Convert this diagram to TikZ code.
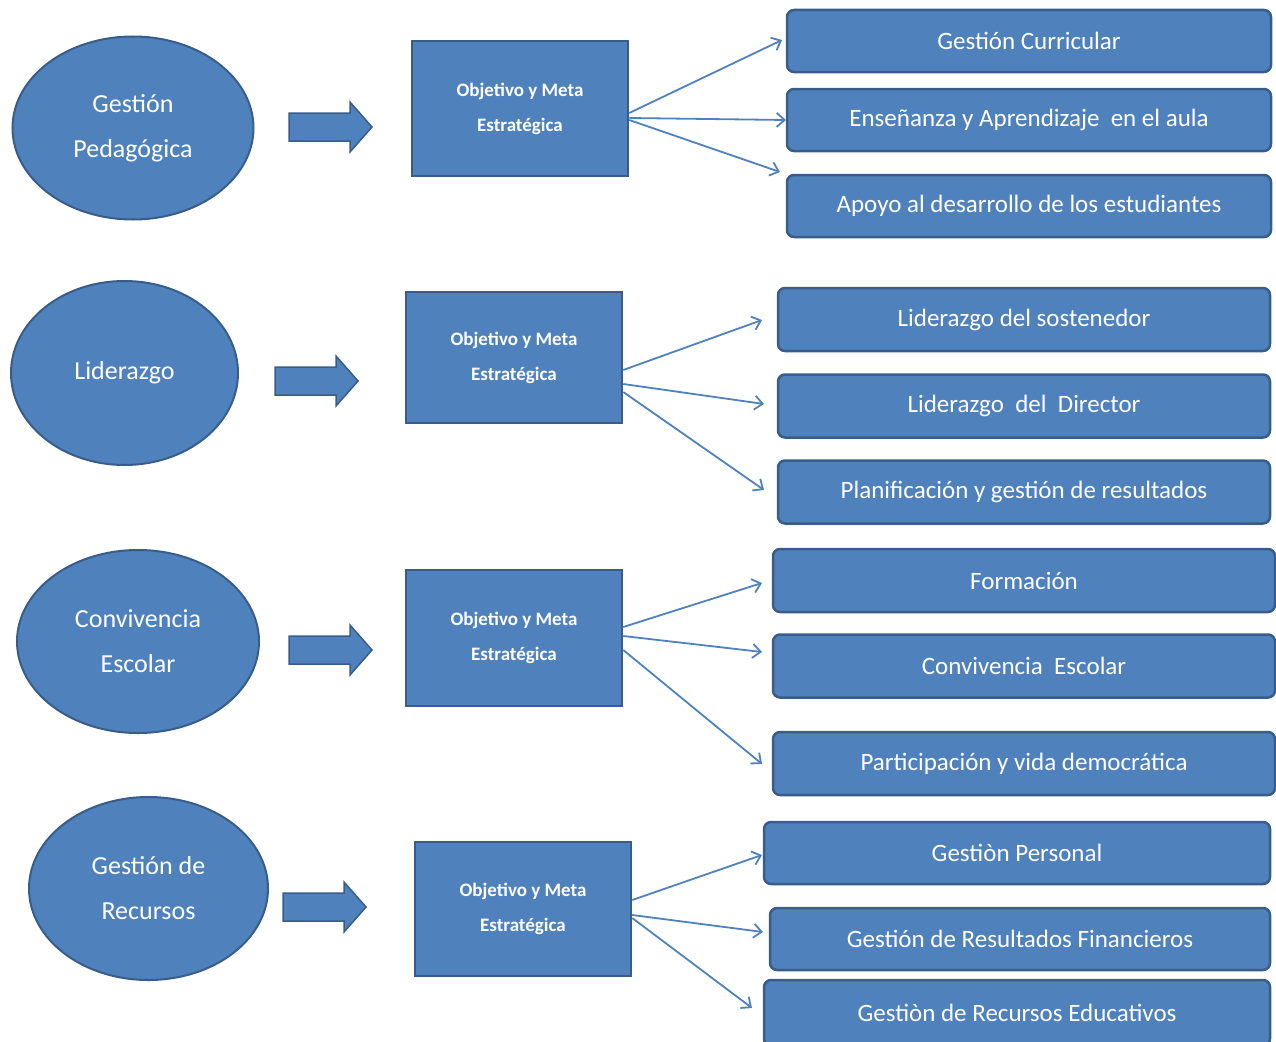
\documentclass[tikz,border=0pt]{standalone}
\usepackage{fontspec}
\setmainfont{Carlito}
\usetikzlibrary{shapes.geometric,arrows.meta}
\definecolor{fillb}{HTML}{4F81BD}
\definecolor{edgeb}{HTML}{385D8A}
\newcommand\fatarrow[2]{%
  \draw[bigarrow] (#1,#2) ++(0,-14) -- ++(61,0) -- ++(0,-11) -- ++(22,25) -- ++(-22,25) -- ++(0,-11) -- ++(-61,0) -- cycle;}
\begin{document}
\begin{tikzpicture}[x=1pt,y=-1pt,
 area/.style={ellipse, fill=fillb, draw=edgeb, line width=2pt, text=white, inner sep=0pt, align=center, font=\fontsize{26}{45}\selectfont},
 goal/.style={rectangle, fill=fillb, draw=edgeb, line width=2.5pt, text=white, inner sep=0pt, align=center, minimum width=216pt, font=\fontsize{19}{35}\selectfont\bfseries},
 dim/.style={rectangle, rounded corners=7pt, fill=fillb, draw=edgeb, line width=2.5pt, text=white, inner sep=0pt, font=\fontsize{25}{30}\selectfont},
 link/.style={draw=fillb, line width=1.8pt, -{Straight Barb[length=8pt,width=14pt]}},
 bigarrow/.style={fill=fillb, draw=edgeb, line width=1.5pt}]
\useasboundingbox (0,0) rectangle (1276,1041);

% ---------- Row 1 ----------
\node[area, minimum width=241pt, minimum height=183pt] (e1) at (133,128) {Gestión\\Pedagógica};
\fatarrow{289}{127}
\node[goal, minimum height=135pt] (r1) at (520,108.5) {Objetivo y Meta\\Estratégica};
\node[dim, minimum width=484pt, minimum height=62pt] (b11) at (1029,41) {Gestión Curricular};
\node[dim, minimum width=484pt, minimum height=62pt] (b12) at (1029,120) {Enseñanza y Aprendizaje\ \ en el aula};
\node[dim, minimum width=484pt, minimum height=62pt] (b13) at (1029,206) {Apoyo al desarrollo de los estudiantes};
\coordinate (t11) at (782,40);
\coordinate (t12) at (786,120);
\coordinate (t13) at (780,172);
\draw[link] ([yshift=-4.5pt]r1.east) -- (t11);
\draw[link] ([yshift=-9.5pt]r1.east) -- (t12);
\draw[link] ([yshift=-11.5pt]r1.east) -- (t13);

% ---------- Row 2 ----------
\node[area, minimum width=227pt, minimum height=184pt] (e2) at (124.5,373) {Liderazgo};
\fatarrow{275}{381}
\node[goal, minimum height=131pt] (r2) at (514,357.5) {Objetivo y Meta\\Estratégica};
\node[dim, minimum width=492pt, minimum height=63pt] (b21) at (1024,319.5) {Liderazgo del sostenedor};
\node[dim, minimum width=492pt, minimum height=63pt] (b22) at (1024,406) {Liderazgo\ \ del\ \ Director};
\node[dim, minimum width=492pt, minimum height=63pt] (b23) at (1024,492) {Planificación y gestión de resultados};
\coordinate (t21) at (762,320);
\coordinate (t22) at (764,404);
\coordinate (t23) at (764,490);
\draw[link] ([yshift=-12.5pt]r2.east) -- (t21);
\draw[link] ([yshift=-26.5pt]r2.east) -- (t22);
\draw[link] ([yshift=-34.5pt]r2.east) -- (t23);

% ---------- Row 3 ----------
\node[area, minimum width=242pt, minimum height=183pt] (e3) at (138,641.5) {Convivencia\\Escolar};
\fatarrow{289}{650}
\node[goal, minimum height=136pt] (r3) at (514,638) {Objetivo y Meta\\Estratégica};
\node[dim, minimum width=502pt, minimum height=63pt] (b31) at (1024,580.5) {Formación};
\node[dim, minimum width=502pt, minimum height=63pt] (b32) at (1024,666) {Convivencia\ \ Escolar};
\node[dim, minimum width=502pt, minimum height=63pt] (b33) at (1024,763.5) {Participación y vida democrática};
\coordinate (t31) at (762,583);
\coordinate (t32) at (762,652);
\coordinate (t33) at (762,764);
\draw[link] ([yshift=11pt]r3.east) -- (t31);
\draw[link] ([yshift=2pt]r3.east) -- (t32);
\draw[link] ([yshift=-12pt]r3.east) -- (t33);

% ---------- Row 4 ----------
\node[area, minimum width=239pt, minimum height=183pt] (e4) at (148.5,888.5) {Gestión de\\Recursos};
\fatarrow{283}{907}
\node[goal, minimum height=134pt] (r4) at (523,909) {Objetivo y Meta\\Estratégica};
\node[dim, minimum width=506pt, minimum height=62pt] (b41) at (1017,853) {Gestiòn Personal};
\node[dim, minimum width=500pt, minimum height=62pt] (b42) at (1020,939) {Gestión de Resultados Financieros};
\node[dim, minimum width=506pt, minimum height=66pt] (b43) at (1017,1013) {Gestiòn de Recursos Educativos};
\coordinate (t41) at (762,855);
\coordinate (t42) at (763,932);
\coordinate (t43) at (752,1008);
\draw[link] ([yshift=9pt]r4.east) -- (t41);
\draw[link] ([yshift=-6pt]r4.east) -- (t42);
\draw[link] ([yshift=-9pt]r4.east) -- (t43);
\end{tikzpicture}
\end{document}
